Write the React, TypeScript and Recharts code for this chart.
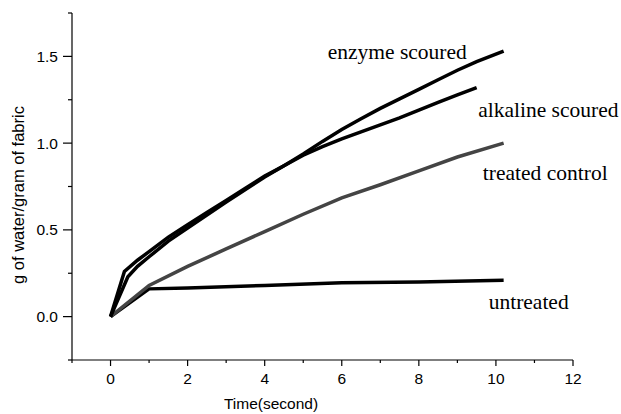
import React from "react";
import { LineChart, Line, XAxis, YAxis, ReferenceDot, Label } from "recharts";

const enzymeT = [0, 0.45, 0.7, 1, 1.5, 2, 2.5, 3, 3.5, 4, 4.5, 5, 5.5, 6, 6.5, 7, 7.5, 8, 8.5, 9, 9.5, 10.2];
const enzymeV = [0, 0.23, 0.29, 0.345, 0.435, 0.51, 0.585, 0.66, 0.732, 0.805, 0.87, 0.937, 1.01, 1.078, 1.14, 1.2, 1.255, 1.31, 1.365, 1.42, 1.47, 1.53];

const alkalineT = [0, 0.36, 0.7, 1, 1.5, 2, 2.5, 3, 3.5, 4, 4.5, 5, 5.5, 6, 6.5, 7, 7.5, 8, 8.5, 9, 9.5];
const alkalineV = [0, 0.26, 0.325, 0.375, 0.458, 0.53, 0.6, 0.67, 0.74, 0.81, 0.87, 0.93, 0.98, 1.025, 1.065, 1.105, 1.145, 1.19, 1.235, 1.278, 1.32];

const treatedT = [0, 1, 2, 3, 4, 5, 6, 7, 8, 9, 10.2];
const treatedV = [0, 0.18, 0.29, 0.39, 0.49, 0.59, 0.685, 0.76, 0.84, 0.92, 1.0];

const untreatedT = [0, 1, 2, 4, 6, 8, 10.2];
const untreatedV = [0, 0.16, 0.165, 0.18, 0.195, 0.2, 0.21];

const xTicks = [-1, 0, 1, 2, 3, 4, 5, 6, 7, 8, 9, 10, 11, 12];
const xLabeled = [0, 2, 4, 6, 8, 10, 12];
const yTicks = [-0.25, 0, 0.25, 0.5, 0.75, 1.0, 1.25, 1.5, 1.75];
const yLabeled = [0, 0.5, 1.0, 1.5];

const seriesNames = ["enzyme scoured", "alkaline scoured", "treated control", "untreated"];
const annotationT = [7.44, 11.36, 11.28, 10.85];
const annotationV = [1.52, 1.188, 0.826, 0.079];

const zip = (ts: number[], vs: number[]) => ts.map((t, i) => ({ t, v: vs[i] }));

const enzymeData = zip(enzymeT, enzymeV);
const alkalineData = zip(alkalineT, alkalineV);
const treatedData = zip(treatedT, treatedV);
const untreatedData = zip(untreatedT, untreatedV);

const SANS = "'Liberation Sans', Arial, sans-serif";
const SERIF = "'Liberation Serif', 'Times New Roman', serif";

const YTick = (props: any) => {
  const { x, y, payload } = props;
  const v = payload.value;
  const major = yLabeled.some((m) => Math.abs(m - v) < 1e-6);
  const len = major ? 9 : 4;
  return (
    <g>
      <line x1={x - len} y1={y} x2={x} y2={y} stroke="#000" strokeWidth={1.2} />
      {major && (
        <text x={x - 14} y={y + 5.6} textAnchor="end" fontFamily={SANS} fontSize={15.5} fill="#000">
          {v.toFixed(1)}
        </text>
      )}
    </g>
  );
};

const XTick = (props: any) => {
  const { x, y, payload } = props;
  const v = payload.value;
  const major = xLabeled.includes(v);
  const len = major ? 6 : 3;
  return (
    <g>
      <line x1={x} y1={y} x2={x} y2={y + len} stroke="#000" strokeWidth={1.2} />
      {major && (
        <text x={x} y={y + 23.5} textAnchor="middle" fontFamily={SANS} fontSize={15.5} fill="#000">
          {String(v)}
        </text>
      )}
    </g>
  );
};

export default function App() {
  return (
    <div style={{ position: "absolute", left: 0, top: 0, width: 621, height: 414, background: "#fff" }}>
      <LineChart width={621} height={414} margin={{ top: 13, right: 48, left: 0, bottom: 0 }}>
        <XAxis
          type="number"
          dataKey="t"
          domain={[-1, 12]}
          ticks={xTicks}
          allowDataOverflow
          height={54}
          tickSize={0}
          tickMargin={0}
          tick={<XTick />}
          axisLine={{ stroke: "#000", strokeWidth: 1.2 }}
          tickLine={false}
          interval={0}
        >
          <Label
            content={() => (
              <text x={271} y={409} textAnchor="middle" fontFamily={SANS} fontSize={15.5} fill="#000">
                Time(second)
              </text>
            )}
          />
        </XAxis>
        <YAxis
          type="number"
          domain={[-0.25, 1.75]}
          ticks={yTicks}
          allowDataOverflow
          width={72}
          tickSize={0}
          tickMargin={0}
          tick={<YTick />}
          axisLine={{ stroke: "#000", strokeWidth: 1.2 }}
          tickLine={false}
          interval={0}
        >
          <Label
            content={() => (
              <text
                x={24}
                y={195}
                transform="rotate(-90 24 195)"
                textAnchor="middle"
                fontFamily={SANS}
                fontSize={16.5}
                fill="#000"
              >
                g of water/gram of fabric
              </text>
            )}
          />
        </YAxis>
        <Line data={untreatedData} dataKey="v" type="linear" stroke="#000" strokeWidth={3.5} dot={false} isAnimationActive={false} />
        <Line data={treatedData} dataKey="v" type="linear" stroke="#444" strokeWidth={3.5} dot={false} isAnimationActive={false} />
        <Line data={alkalineData} dataKey="v" type="linear" stroke="#000" strokeWidth={3.5} dot={false} isAnimationActive={false} />
        <Line data={enzymeData} dataKey="v" type="linear" stroke="#000" strokeWidth={3.5} dot={false} isAnimationActive={false} />
        {seriesNames.map((name, i) => (
          <ReferenceDot
            key={name}
            x={annotationT[i]}
            y={annotationV[i]}
            r={0}
            ifOverflow="visible"
            shape={(p: any) => (
              <text
                x={p.cx}
                y={p.cy + 6.5}
                textAnchor="middle"
                fontFamily={SERIF}
                fontSize={21.5}
                fill="#000"
              >
                {name}
              </text>
            )}
          />
        ))}
      </LineChart>
    </div>
  );
}
